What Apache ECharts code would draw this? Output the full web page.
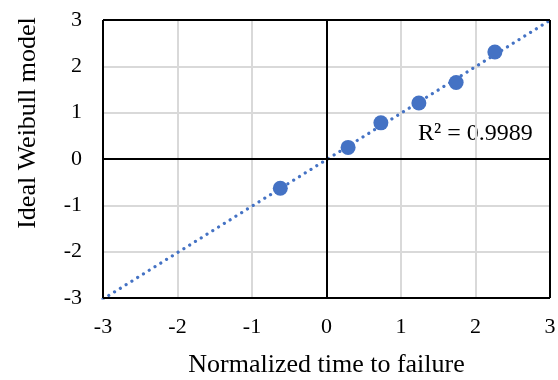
<!DOCTYPE html>
<html>
<head>
<meta charset="utf-8">
<script src="https://cdn.jsdelivr.net/npm/echarts@6/dist/echarts.min.js"></script>
<style>
  html, body { margin: 0; padding: 0; background: #fff; }
  #chart { width: 558px; height: 380px; }
</style>
</head>
<body>
<div id="chart"></div>
<script>
const timeToFailure = [-0.62, 0.29, 0.73, 1.24, 1.74, 2.26];
const weibullModel = [-0.63, 0.25, 0.78, 1.21, 1.65, 2.31];
const axisTicks = [-3, -2, -1, 0, 1, 2, 3];
const rSquaredText = 'R² = 0.9989';

// linear trendline (least squares) across the full axis range
function trendline(xs, ys) {
    let n = xs.length, sx = 0, sy = 0, sxx = 0, sxy = 0;
    for (let i = 0; i < n; i++) {
        sx += xs[i]; sy += ys[i];
        sxx += xs[i] * xs[i]; sxy += xs[i] * ys[i];
    }
    let slope = (n * sxy - sx * sy) / (n * sxx - sx * sx);
    let intercept = (sy - slope * sx) / n;
    let lo = axisTicks[0], hi = axisTicks[axisTicks.length - 1];
    return [[lo, slope * lo + intercept], [hi, slope * hi + intercept]];
}

const serif = 'Liberation Serif, Times New Roman, serif';
const blue = '#4472c4';
const lo = axisTicks[0], hi = axisTicks[axisTicks.length - 1];

let option = {
    animation: false,
    textStyle: {fontFamily: serif, color: '#000'},
    grid: {
        left: 103,
        right: 8,
        top: 20,
        bottom: 82,
        containLabel: false,
        outerBoundsMode: 'none'
    },
    xAxis: {
        type: 'value',
        min: lo,
        max: hi,
        interval: 1,
        name: 'Normalized time to failure',
        nameLocation: 'middle',
        nameGap: 54,
        nameTextStyle: {fontSize: 26, fontFamily: serif, color: '#000'},
        axisLine: {show: false, onZero: false},
        axisTick: {show: false},
        axisLabel: {fontSize: 22, fontFamily: serif, color: '#000', margin: 18},
        splitLine: {lineStyle: {color: '#d9d9d9', width: 2}}
    },
    yAxis: {
        type: 'value',
        min: lo,
        max: hi,
        interval: 1,
        name: 'Ideal Weibull model',
        nameLocation: 'middle',
        nameGap: 62,
        nameTextStyle: {fontSize: 26, fontFamily: serif, color: '#000', padding: [0, 0, 0, 72]},
        axisLine: {show: false, onZero: false},
        axisTick: {show: false},
        axisLabel: {fontSize: 22, fontFamily: serif, color: '#000', margin: 21},
        splitLine: {lineStyle: {color: '#d9d9d9', width: 2}}
    },
    graphic: [{
        type: 'text',
        left: 418,
        top: 122,
        style: {text: rSquaredText, font: '24px ' + serif, fill: '#000'}
    }],
    series: [
        {
            // zero axes and plot border
            name: 'frame',
            type: 'line',
            data: [],
            silent: true,
            markLine: {
                silent: true,
                symbol: 'none',
                label: {show: false},
                lineStyle: {color: '#000', width: 2, type: 'solid'},
                data: [{xAxis: 0}, {yAxis: 0}, {xAxis: lo}, {xAxis: hi}, {yAxis: lo}, {yAxis: hi}]
            },
            z: 3
        },
        {
            name: 'trend',
            type: 'line',
            data: trendline(timeToFailure, weibullModel),
            showSymbol: false,
            lineStyle: {color: blue, width: 3.2, type: [0.01, 6.8], cap: 'round'},
            z: 4
        },
        {
            name: 'points',
            type: 'scatter',
            data: timeToFailure.map((x, i) => [x, weibullModel[i]]),
            symbolSize: 15,
            itemStyle: {color: blue, opacity: 1},
            z: 5
        }
    ]
};
echarts.init(document.getElementById('chart')).setOption(option);
</script>
</body>
</html>
